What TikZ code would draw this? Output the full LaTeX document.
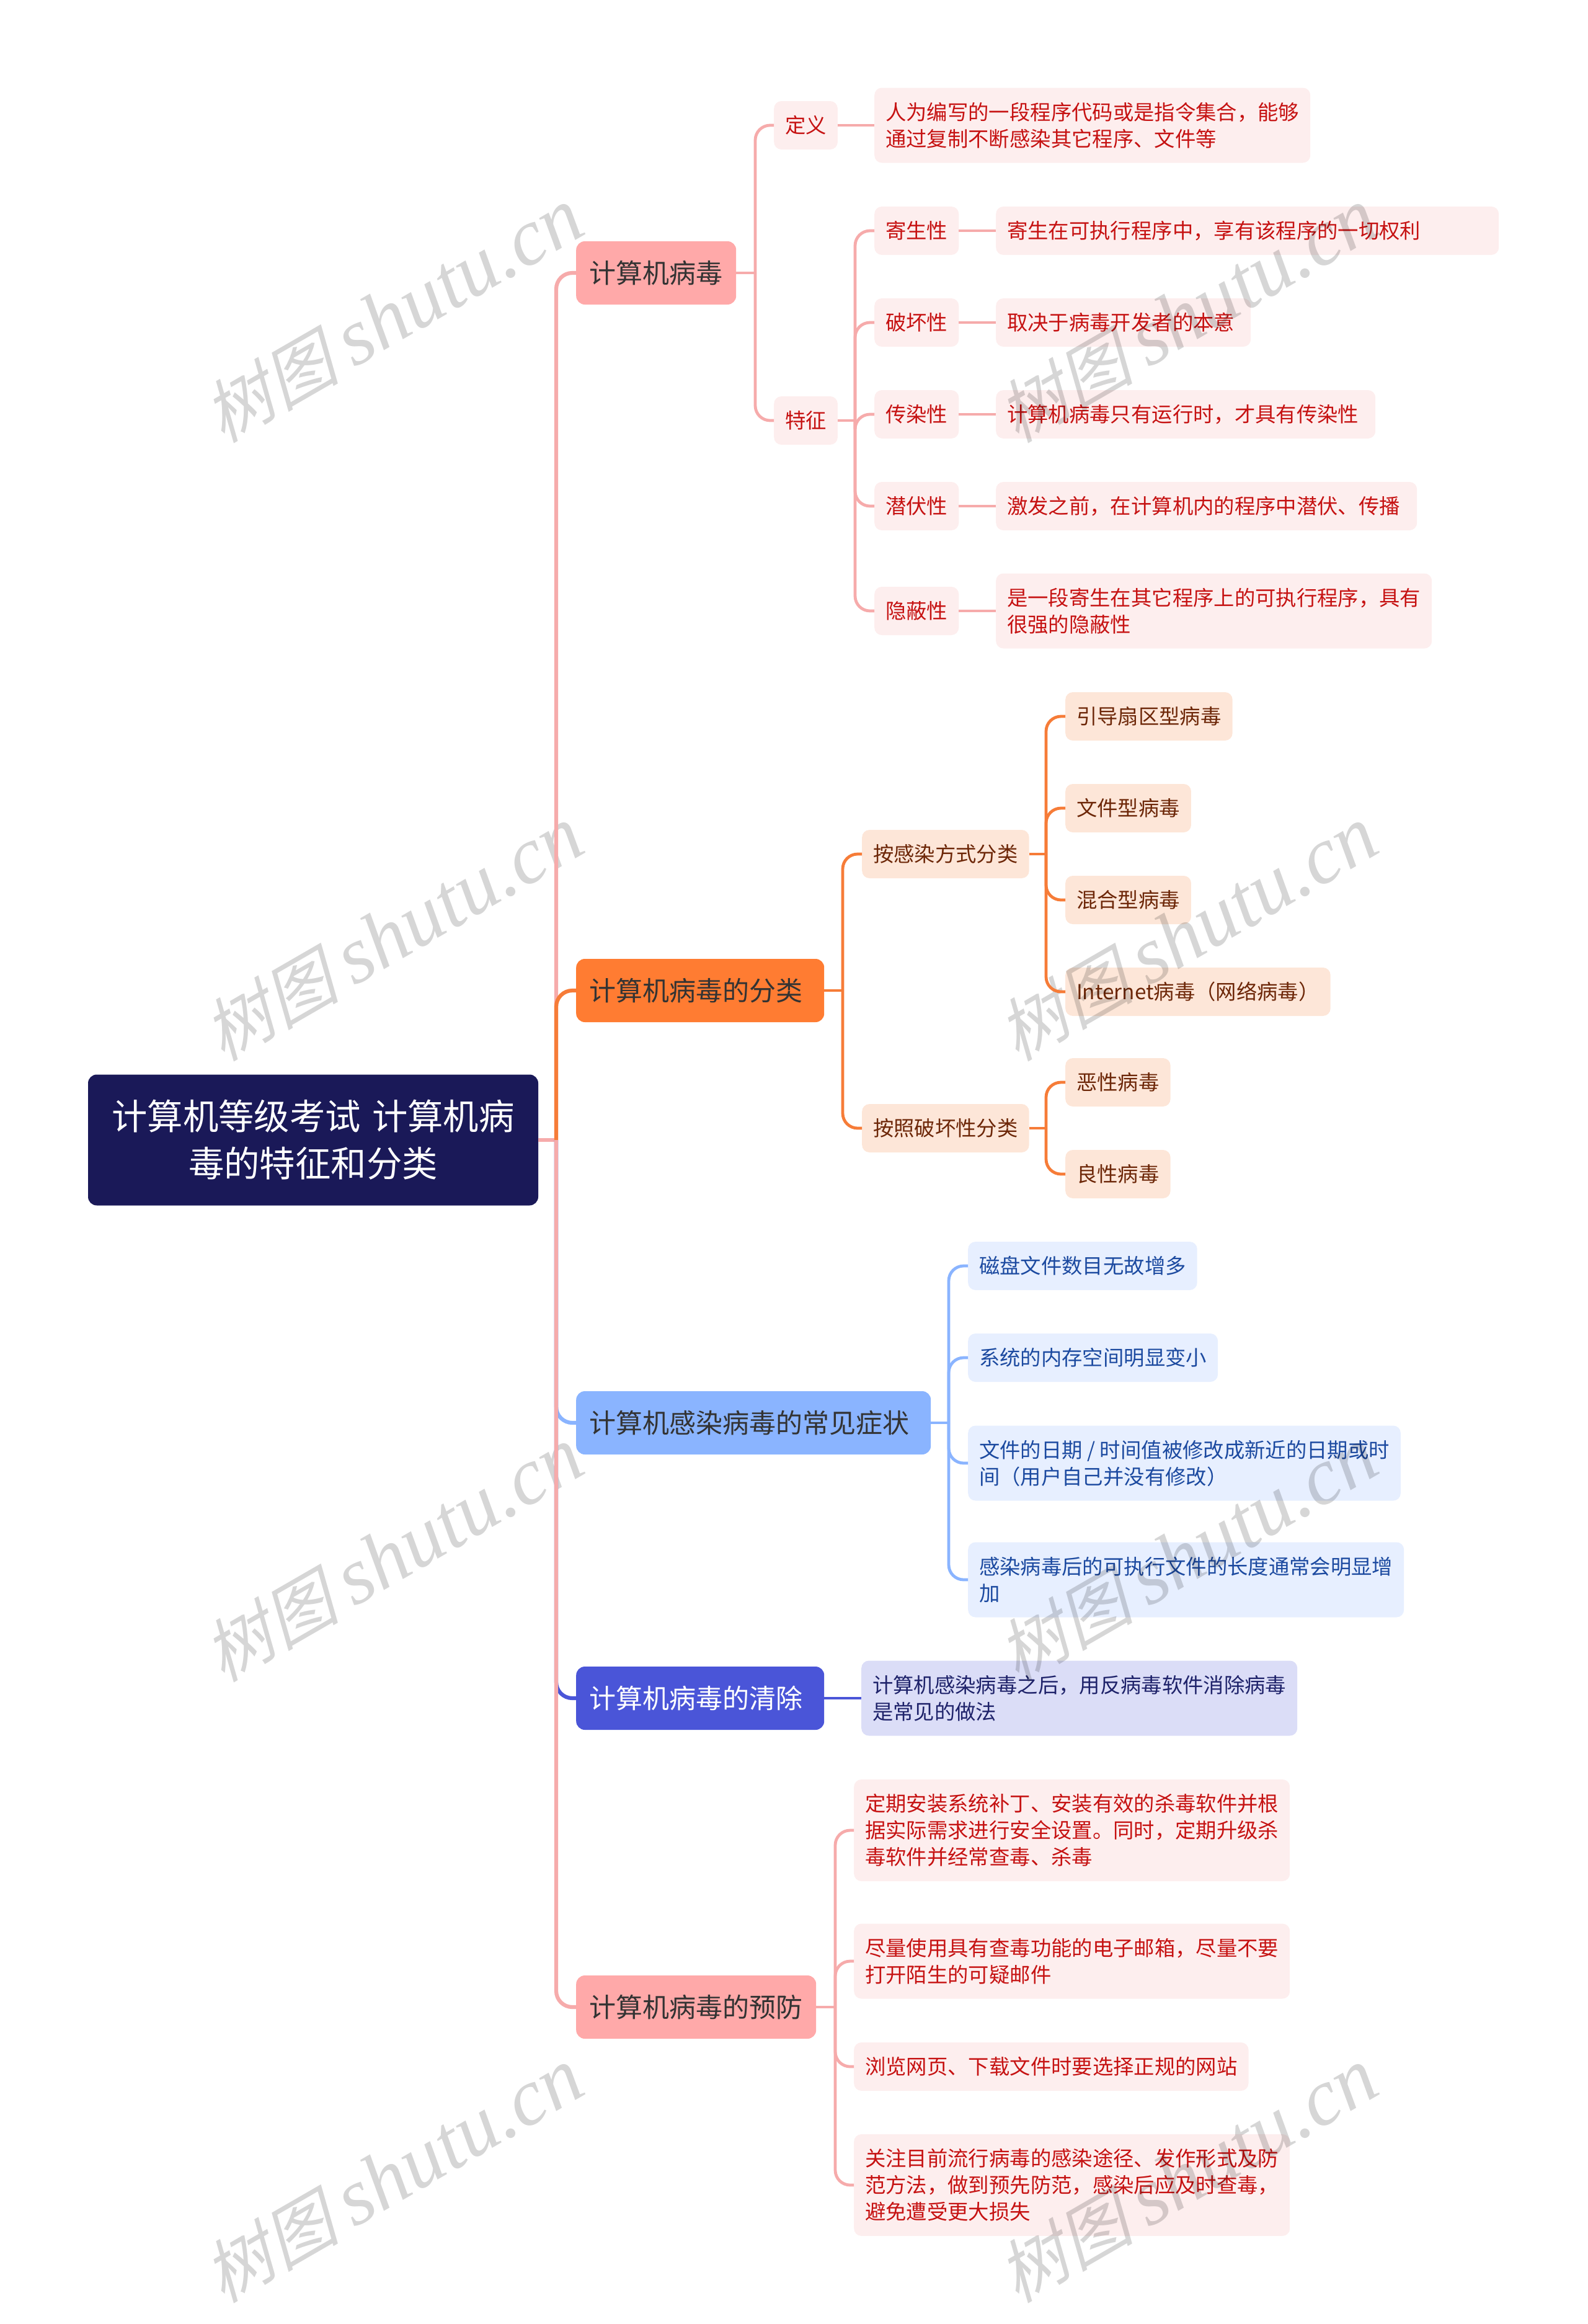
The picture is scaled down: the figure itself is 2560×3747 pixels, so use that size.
\documentclass[tikz,border=0pt]{standalone}
\usepackage{fontspec}
\setmainfont{Noto Sans CJK SC}
\newfontfamily\markcjk[FakeSlant=0.25]{Noto Sans CJK SC}
\newfontfamily\marklat{Liberation Serif}[ItalicFont=* Italic]
\definecolor{navy}{HTML}{1A1958}
\definecolor{pinkmain}{HTML}{FFA9A9}
\definecolor{pinkline}{HTML}{F6ABAB}
\definecolor{pinkpale}{HTML}{FDEEEE}
\definecolor{pinktext}{HTML}{C81414}
\definecolor{orangemain}{HTML}{FF7C32}
\definecolor{orangeline}{HTML}{F67C38}
\definecolor{orangepale}{HTML}{FDE6D8}
\definecolor{orangetext}{HTML}{6E2C0A}
\definecolor{bluemain}{HTML}{8AB4FF}
\definecolor{bluepale}{HTML}{E7EFFF}
\definecolor{bluetext}{HTML}{1F4FA0}
\definecolor{indigomain}{HTML}{4A55D8}
\definecolor{indigopale}{HTML}{DBDDF7}
\definecolor{indigotext}{HTML}{23286E}
\tikzset{
  rootbox/.style={fill=navy, text=white, rounded corners=14, inner sep=0, minimum width=726, minimum height=211,
    align=center, font=\fontsize{57.4}{76}\selectfont},
  mainbox/.style={anchor=west, rounded corners=14, inner xsep=21.5, inner ysep=0, minimum height=102, align=left,
    font=\fontsize{43}{50}\selectfont},
  leafbox/.style={anchor=west, rounded corners=12, inner xsep=18, inner ysep=0, minimum height=78, align=left,
    font=\fontsize{33.35}{43}\selectfont, blend mode=multiply},
  twoline/.style={minimum height=121},
  threeline/.style={minimum height=164},
  pinkleaf/.style={leafbox, fill=pinkpale, text=pinktext},
  orangeleaf/.style={leafbox, fill=orangepale, text=orangetext},
  blueleaf/.style={leafbox, fill=bluepale, text=bluetext},
  indigoleaf/.style={leafbox, fill=indigopale, text=indigotext},
  trunk/.style={line width=6.2, rounded corners=26},
  twig/.style={line width=4.8, rounded corners=24},
  shuiyin/.style={rotate=30, text=black!16, inner sep=0},
}
\begin{document}
\begin{tikzpicture}[x=1pt, y=-1pt]
\useasboundingbox (0,0) rectangle (2560,3747);

% 水印
\foreach \wx/\wy [count=\i] in {634/509,634/1506,634/2507,634/3508,1915/509,1915/1506,1915/2507,1915/3508}
  \node[shuiyin] (mark\i) at (\wx,\wy) {\fontsize{110}{110}\selectfont\markcjk 树图 \fontsize{130}{130}\selectfont\marklat\itshape shutu.cn};

% 中心主题
\node[rootbox] (root) at (505,1838) {计算机等级考试 \hspace{5pt}计算机病\\毒的特征和分类};
\coordinate (bus) at (897,1838);

% 一级分支
\node[mainbox, fill=pinkmain, text=black!80] (virus) at (929,440) {计算机病毒};
\node[mainbox, fill=orangemain, text=black!80, text width=357] (kinds) at (929,1597) {计算机病毒的分类};
\node[mainbox, fill=bluemain, text=black!80, text width=529] (signs) at (929,2294) {计算机感染病毒的常见症状};
\node[mainbox, fill=indigomain, text=white, text width=357] (clean) at (929,2738) {计算机病毒的清除};
\node[mainbox, fill=pinkmain, text=black!80] (guard) at (929,3236) {计算机病毒的预防};

% 计算机病毒
\node[pinkleaf] (def) at (1248,202) {定义};
\node[pinkleaf] (feat) at (1248,678) {特征};
\node[pinkleaf, twoline] (defa) at (1410,202) {人为编写的一段程序代码或是指令集合，能够\\通过复制不断感染其它程序、文件等};
\node[pinkleaf] (fa) at (1410,372) {寄生性};
\node[pinkleaf] (fb) at (1410,520) {破坏性};
\node[pinkleaf] (fc) at (1410,668) {传染性};
\node[pinkleaf] (fd) at (1410,816) {潜伏性};
\node[pinkleaf] (fe) at (1410,985) {隐蔽性};
\node[pinkleaf, text width=775] (faa) at (1606,372) {寄生在可执行程序中，享有该程序的一切权利};
\node[pinkleaf, text width=375] (fba) at (1606,520) {取决于病毒开发者的本意};
\node[pinkleaf, text width=576] (fca) at (1606,668) {计算机病毒只有运行时，才具有传染性};
\node[pinkleaf, text width=643] (fda) at (1606,816) {激发之前，在计算机内的程序中潜伏、传播};
\node[pinkleaf, twoline] (fea) at (1606,985) {是一段寄生在其它程序上的可执行程序，具有\\很强的隐蔽性};

% 分类
\node[orangeleaf] (infect) at (1390,1377) {按感染方式分类};
\node[orangeleaf] (harm) at (1390,1819) {按照破坏性分类};
\node[orangeleaf] (ia) at (1718,1155) {引导扇区型病毒};
\node[orangeleaf] (ib) at (1718,1303) {文件型病毒};
\node[orangeleaf] (ic) at (1718,1451) {混合型病毒};
\node[orangeleaf] (id) at (1718,1599) {Internet病毒（网络病毒）};
\node[orangeleaf] (ha) at (1718,1745) {恶性病毒};
\node[orangeleaf] (hb) at (1718,1893) {良性病毒};

% 症状
\node[blueleaf] (sa) at (1561,2041) {磁盘文件数目无故增多};
\node[blueleaf] (sb) at (1561,2189) {系统的内存空间明显变小};
\node[blueleaf, twoline] (sc) at (1561,2359) {文件的日期 / 时间值被修改成新近的日期或时\\间（用户自己并没有修改）};
\node[blueleaf, twoline] (sd) at (1561,2547) {感染病毒后的可执行文件的长度通常会明显增\\加};

% 清除
\node[indigoleaf, twoline] (ca) at (1389,2738) {计算机感染病毒之后，用反病毒软件消除病毒\\是常见的做法};

% 预防
\node[pinkleaf, threeline] (ga) at (1377,2951) {定期安装系统补丁、安装有效的杀毒软件并根\\据实际需求进行安全设置。同时，定期升级杀\\毒软件并经常查毒、杀毒};
\node[pinkleaf, twoline] (gb) at (1377,3162) {尽量使用具有查毒功能的电子邮箱，尽量不要\\打开陌生的可疑邮件};
\node[pinkleaf] (gc) at (1377,3332) {浏览网页、下载文件时要选择正规的网站};
\node[pinkleaf, threeline] (gd) at (1377,3523) {关注目前流行病毒的感染途径、发作形式及防\\范方法，做到预先防范，感染后应及时查毒，\\避免遭受更大损失};

% 分叉点
\coordinate (busvirus) at (1218,440);
\coordinate (busfeat) at (1379,678);
\coordinate (buskinds) at (1359,1597);
\coordinate (businfect) at (1687,1377);
\coordinate (busharm) at (1687,1819);
\coordinate (bussigns) at (1530,2294);
\coordinate (busguard) at (1347,3236);

% 连线
\draw[trunk, pinkline] (root.east) -- (bus);
\draw[trunk, pinkline] (bus) |- (virus.west);
\draw[trunk, orangeline] (bus) |- (kinds.west);
\draw[trunk, bluemain] (bus) |- (signs.west);
\draw[trunk, indigomain] (bus) |- (clean.west);
\draw[trunk, pinkline] (bus) |- (guard.west);

\draw[twig, pinkline] (virus.east) -- (busvirus);
\foreach \c in {def,feat} \draw[twig, pinkline] (busvirus) |- (\c.west);
\draw[twig, pinkline] (def.east) -- (defa.west);
\draw[twig, pinkline] (feat.east) -- (busfeat);
\foreach \c in {fa,fb,fc,fd,fe} \draw[twig, pinkline] (busfeat) |- (\c.west);
\foreach \c in {fa,fb,fc,fd,fe} \draw[twig, pinkline] (\c.east) -- (\c a.west);

\draw[twig, orangeline] (kinds.east) -- (buskinds);
\foreach \c in {infect,harm} \draw[twig, orangeline] (buskinds) |- (\c.west);
\draw[twig, orangeline] (infect.east) -- (businfect);
\foreach \c in {ia,ib,ic,id} \draw[twig, orangeline] (businfect) |- (\c.west);
\draw[twig, orangeline] (harm.east) -- (busharm);
\foreach \c in {ha,hb} \draw[twig, orangeline] (busharm) |- (\c.west);

\draw[twig, bluemain] (signs.east) -- (bussigns);
\foreach \c in {sa,sb,sc,sd} \draw[twig, bluemain] (bussigns) |- (\c.west);

\draw[twig, indigomain] (clean.east) -- (ca.west);

\draw[twig, pinkline] (guard.east) -- (busguard);
\foreach \c in {ga,gb,gc,gd} \draw[twig, pinkline] (busguard) |- (\c.west);
\end{tikzpicture}
\end{document}
